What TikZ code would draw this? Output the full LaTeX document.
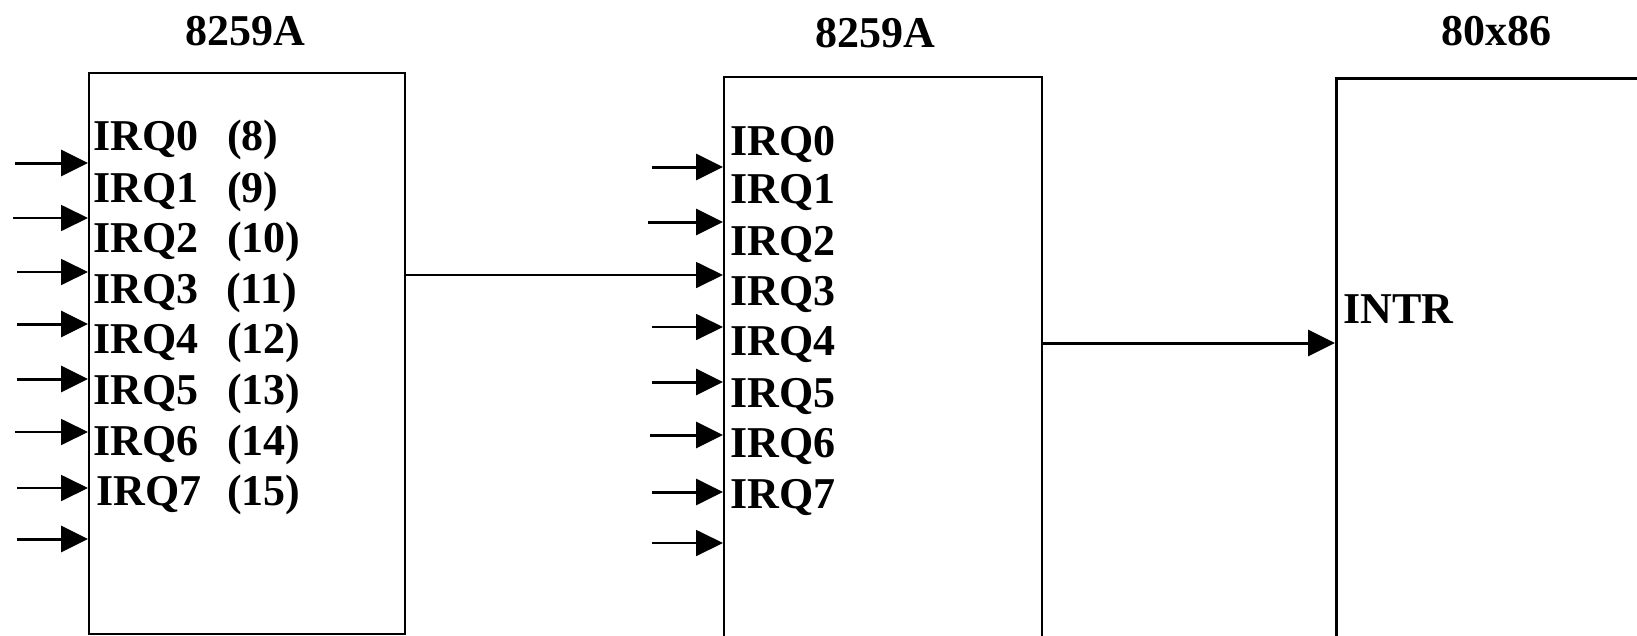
\documentclass[tikz,border=0pt]{standalone}
\usepackage{fontspec}
\setmainfont{Liberation Serif}
\usetikzlibrary{arrows.meta}
\begin{document}
\begin{tikzpicture}[x=1pt,y=-1pt,
  chip/.style={draw, line width=2.2pt, anchor=north west, inner sep=0pt},
  lbl/.style={anchor=base west, inner sep=0pt, font=\fontsize{44}{44}\selectfont\bfseries},
  ttl/.style={anchor=base, inner sep=0pt, font=\fontsize{44}{44}\selectfont\bfseries},
  thk/.style={line width=3pt, -{Triangle[length=27pt,width=26pt]}},
  thn/.style={line width=1.8pt, -{Triangle[length=27pt,width=26pt]}}]
\fill[white] (0,0) rectangle (1637,635);
\useasboundingbox (0,0) rectangle (1637,635);
% boxes
\node[chip, minimum width=316pt, minimum height=561pt] (c1) at (88,72) {};
\node[chip, minimum width=318pt, minimum height=580pt] (c2) at (723,76) {};
\node[chip, line width=3pt, minimum width=330pt, minimum height=580pt] (c3) at (1335,77) {};
% titles
\node[ttl] (t1) at (245,45) {8259A};
\node[ttl] (t2) at (875,47) {8259A};
\node[ttl] (t3) at (1496,45) {80x86};
% labels chip 1
\node[lbl] (a0) at (93,150) {\makebox[134pt][l]{IRQ0}(8)};
\node[lbl] (a1) at (93,202) {\makebox[134pt][l]{IRQ1}(9)};
\node[lbl] (a2) at (93,252) {\makebox[134pt][l]{IRQ2}(10)};
\node[lbl] (a3) at (93,303) {\makebox[133pt][l]{IRQ3}(11)};
\node[lbl] (a4) at (93,353) {\makebox[134pt][l]{IRQ4}(12)};
\node[lbl] (a5) at (93,404) {\makebox[134pt][l]{IRQ5}(13)};
\node[lbl] (a6) at (93,455) {\makebox[134pt][l]{IRQ6}(14)};
\node[lbl] (a7) at (96,505) {\makebox[131pt][l]{IRQ7}(15)};
% labels chip 2
\node[lbl] (b0) at (730,155) {IRQ0};
\node[lbl] (b1) at (730,203) {IRQ1};
\node[lbl] (b2) at (730,255) {IRQ2};
\node[lbl] (b3) at (730,305) {IRQ3};
\node[lbl] (b4) at (730,355) {IRQ4};
\node[lbl] (b5) at (730,407) {IRQ5};
\node[lbl] (b6) at (730,457) {IRQ6};
\node[lbl] (b7) at (730,508) {IRQ7};
% label cpu
\node[lbl] (intr) at (1343,323) {INTR};
% input arrows chip 1
\coordinate (p1) at (15,163);
\coordinate (p2) at (13,218);
\coordinate (p3) at (17,272);
\coordinate (p4) at (17,324);
\coordinate (p5) at (17,379);
\coordinate (p6) at (15,432);
\coordinate (p7) at (17,488);
\coordinate (p8) at (17,539);
\draw[thk] (p1) -- (p1 -| c1.west);
\draw[thn] (p2) -- (p2 -| c1.west);
\draw[thn] (p3) -- (p3 -| c1.west);
\draw[thk] (p4) -- (p4 -| c1.west);
\draw[thk] (p5) -- (p5 -| c1.west);
\draw[thn] (p6) -- (p6 -| c1.west);
\draw[thn] (p7) -- (p7 -| c1.west);
\draw[thk] (p8) -- (p8 -| c1.west);
% input arrows chip 2
\coordinate (q1) at (652,167);
\coordinate (q2) at (648,222);
\coordinate (q4) at (652,327);
\coordinate (q5) at (652,382);
\coordinate (q6) at (650,435);
\coordinate (q7) at (652,492);
\coordinate (q8) at (652,543);
\draw[thk] (q1) -- (q1 -| c2.west);
\draw[thk] (q2) -- (q2 -| c2.west);
\draw[thn] (q4) -- (q4 -| c2.west);
\draw[thk] (q5) -- (q5 -| c2.west);
\draw[thk] (q6) -- (q6 -| c2.west);
\draw[thk] (q7) -- (q7 -| c2.west);
\draw[thn] (q8) -- (q8 -| c2.west);
% cascade
\coordinate (k3) at (0,275);
\draw[thn] (c1.east |- k3) -- (c2.west |- k3);
% interrupt
\coordinate (ki) at (0,343);
\draw[thk] (c2.east |- ki) -- (c3.west |- ki);
\end{tikzpicture}
\end{document}
